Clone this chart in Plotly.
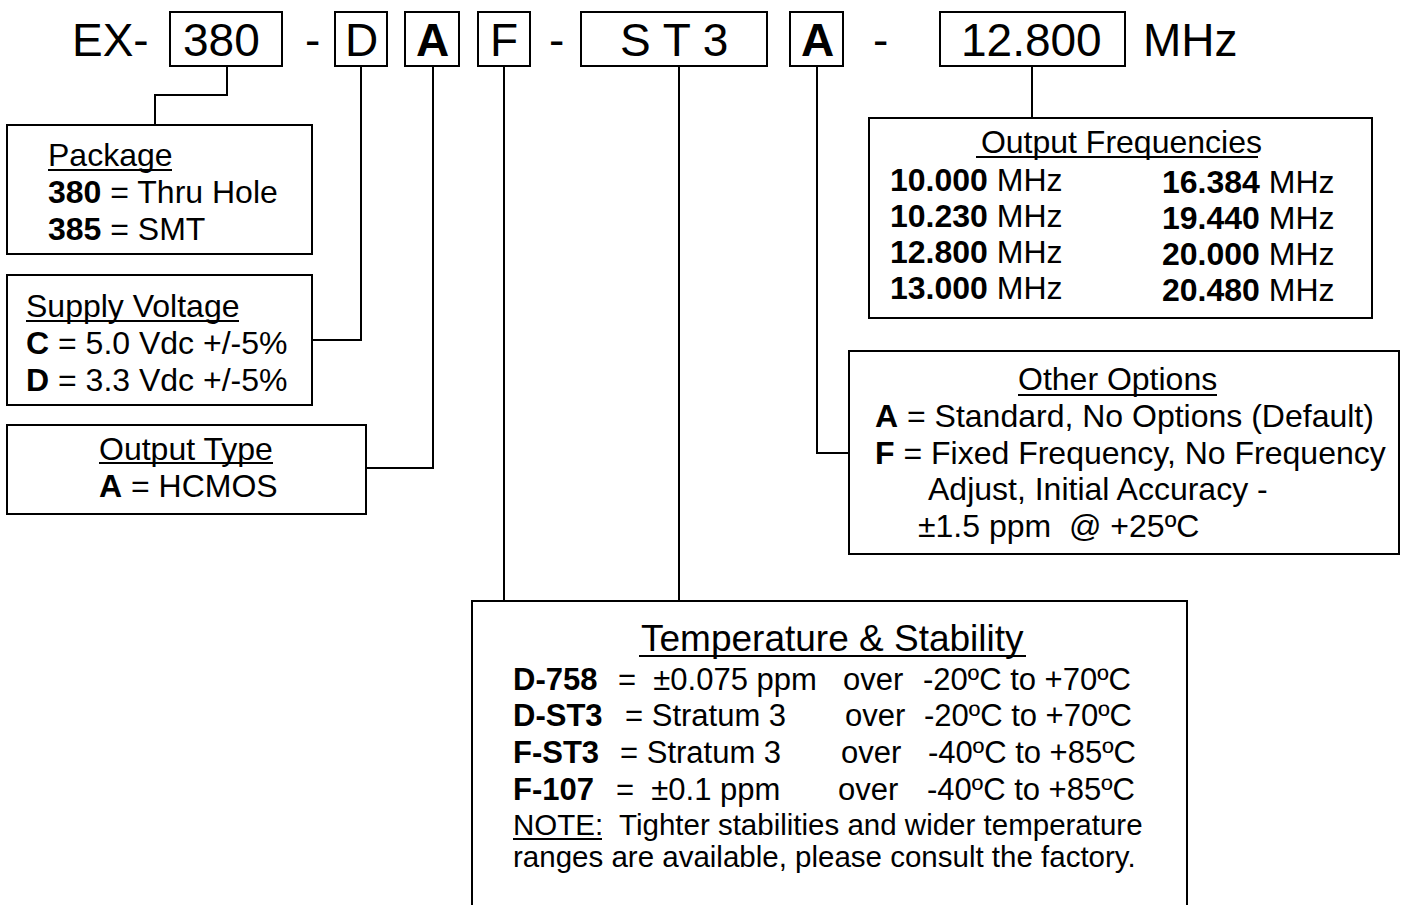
import plotly.graph_objects as go

W, H = 1401, 905
FONT = "Liberation Sans, Arial, sans-serif"
INK = "#000000"

# ---------------- data: part-number code ----------------
prefix_text = "EX-"
suffix_text = "MHz"
code_labels = ["380", "D", "A", "F", "S T 3", "A", "12.800"]
code_bold = [False, False, True, False, False, True, False]
dash_labels = ["-", "-", "-"]

# ---------------- data: option boxes ----------------
package_title = "Package"
package_rows = [("380", " = Thru Hole"), ("385", " = SMT")]

supply_title = "Supply Voltage"
supply_rows = [("C", " = 5.0 Vdc +/-5%"), ("D", " = 3.3 Vdc +/-5%")]

output_type_title = "Output Type"
output_type_rows = [("A", " = HCMOS")]

freq_title = " Output Frequencies"
freq_left = ["10.000", "10.230", "12.800", "13.000"]
freq_right = ["16.384", "19.440", "20.000", "20.480"]
freq_unit = " MHz"

other_title = "Other Options"
other_rows = [("A", " = Standard, No Options (Default)"),
              ("F", " = Fixed Frequency, No Frequency"),
              ("", "Adjust, Initial Accuracy -"),
              ("", "±1.5 ppm  @ +25ºC")]

temp_title = "Temperature & Stability"
temp_codes = ["D-758", "D-ST3", "F-ST3", "F-107"]
temp_spec = ["=  ±0.075 ppm", "= Stratum 3", "= Stratum 3", "=  ±0.1 ppm"]
temp_over = ["over", "over", "over", "over"]
temp_range = ["-20ºC to +70ºC", "-20ºC to +70ºC", "-40ºC to +85ºC", "-40ºC to +85ºC"]
note_label = "NOTE:"
note_lines = ["  Tighter stabilities and wider temperature",
              "ranges are available, please consult the factory."]

# ---------------- layout geometry (pixels) ----------------
TOP_Y0, TOP_Y1, TOP_YC = 12, 66, 40
code_box_x = [(170, 282), (335, 387), (405, 459), (478, 530), (581, 767), (790, 843), (940, 1125)]
code_text_x = [221, 361, 432, 504, 674, 817, 1031]
dash_x = [312, 556, 880]
prefix_x, suffix_x = 72, 1143
PAD = 2  # annotation inner padding compensation for left-anchored text

boxes = {
    "package": (7, 125, 312, 254),
    "supply": (7, 275, 312, 405),
    "otype": (7, 425, 366, 514),
    "freq": (869, 118, 1372, 318),
    "other": (849, 351, 1399, 554),
    "temp": (472, 601, 1187, 915),
}
connectors = [
    [(227, 66), (227, 95), (155, 95), (155, 125)],
    [(361, 66), (361, 340), (312, 340)],
    [(433, 66), (433, 468), (366, 468)],
    [(504, 66), (504, 601)],
    [(679, 66), (679, 601)],
    [(817, 66), (817, 453), (849, 453)],
    [(1032, 66), (1032, 118)],
]

fig = go.Figure()
shapes = []
annotations = []


def txt(x, y, s, size, anchor="left", bold=False):
    annotations.append(dict(
        x=x - (PAD if anchor == "left" else 0), y=y, xref="x", yref="y",
        text=("<b>%s</b>" % s) if bold else s,
        showarrow=False, xanchor=anchor, yanchor="middle",
        font=dict(family=FONT, size=size, color=INK)))


def rich(x, y, b, r, size, anchor="left"):
    s = ("<b>%s</b>" % b if b else "") + r
    annotations.append(dict(
        x=x - (PAD if anchor == "left" else 0), y=y, xref="x", yref="y",
        text=s, showarrow=False, xanchor=anchor, yanchor="middle",
        font=dict(family=FONT, size=size, color=INK)))


def rect(x0, y0, x1, y1, w=2):
    shapes.append(dict(type="rect", xref="x", yref="y", x0=x0, y0=y0, x1=x1, y1=y1,
                       line=dict(color=INK, width=w), fillcolor="rgba(0,0,0,0)"))


def uline(x0, x1, y, w=2):
    shapes.append(dict(type="line", xref="x", yref="y", x0=x0, x1=x1, y0=y, y1=y,
                       line=dict(color=INK, width=w)))


# top row
txt(prefix_x, TOP_YC, prefix_text, 46)
txt(suffix_x, TOP_YC, suffix_text, 46)
for (x0, x1), tx, lab, b in zip(code_box_x, code_text_x, code_labels, code_bold):
    rect(x0, TOP_Y0, x1, TOP_Y1)
    txt(tx, TOP_YC, lab, 46, anchor="center", bold=b)
for dx, d in zip(dash_x, dash_labels):
    txt(dx, TOP_YC, d, 46, anchor="center")

# connectors
for pts in connectors:
    path = "M %d %d " % pts[0] + " ".join("L %d %d" % p for p in pts[1:])
    shapes.append(dict(type="path", xref="x", yref="y", path=path,
                       line=dict(color=INK, width=2)))

for k, (x0, y0, x1, y1) in boxes.items():
    rect(x0, y0, x1, y1)

FS = 32
# package
txt(48, 155, package_title, FS)
uline(48, 172, 170)
for i, (b, r) in enumerate(package_rows):
    rich(48, 192 + 37 * i, b, r, FS)

# supply
txt(26, 306, supply_title, FS)
uline(26, 239, 321)
for i, (b, r) in enumerate(supply_rows):
    rich(26, 343 + 37 * i, b, r, FS)

# output type
txt(186, 449, output_type_title, FS, anchor="center")
uline(99, 273, 463)
for i, (b, r) in enumerate(output_type_rows):
    rich(99, 486 + 37 * i, b, r, FS)

# frequencies
txt(1117, 142, freq_title, FS, anchor="center")
uline(976, 1258, 157)
for i, f in enumerate(freq_left):
    rich(890, 180 + 36 * i, f, freq_unit, FS)
for i, f in enumerate(freq_right):
    rich(1162, 182 + 36 * i, f, freq_unit, FS)

# other options
txt(1117, 379, other_title, FS, anchor="center")
uline(1018, 1217, 395)
other_x = [875, 875, 928, 918]
for i, (b, r) in enumerate(other_rows):
    rich(other_x[i], 416 + 36.5 * i, b, r, FS)

# temperature & stability
txt(832, 638, temp_title, 37, anchor="center")
uline(639, 1026, 656)
TS = 31
code_x = 513
spec_x = [618, 625, 620, 616]
over_x = [843, 845, 841, 838]
range_x = [923, 924, 928, 927]
for i in range(4):
    y = 679 + 36.7 * i
    txt(code_x, y, temp_codes[i], TS, bold=True)
    txt(spec_x[i], y, temp_spec[i], TS)
    txt(over_x[i], y, temp_over[i], TS)
    txt(range_x[i], y, temp_range[i], TS)
txt(513, 824, note_label + note_lines[0], 29.5)
uline(513, 602, 839)
txt(513, 856, note_lines[1], 29.5)

fig.update_layout(
    width=W, height=H, margin=dict(l=0, r=0, t=0, b=0),
    paper_bgcolor="white", plot_bgcolor="white",
    xaxis=dict(range=[0, W], visible=False, fixedrange=True),
    yaxis=dict(range=[H, 0], visible=False, fixedrange=True),
    shapes=shapes, annotations=annotations, showlegend=False,
)
fig.write_html("out.html", config={"displayModeBar": False},
               post_script="document.body.style.margin='0';document.body.style.overflow='hidden';")
